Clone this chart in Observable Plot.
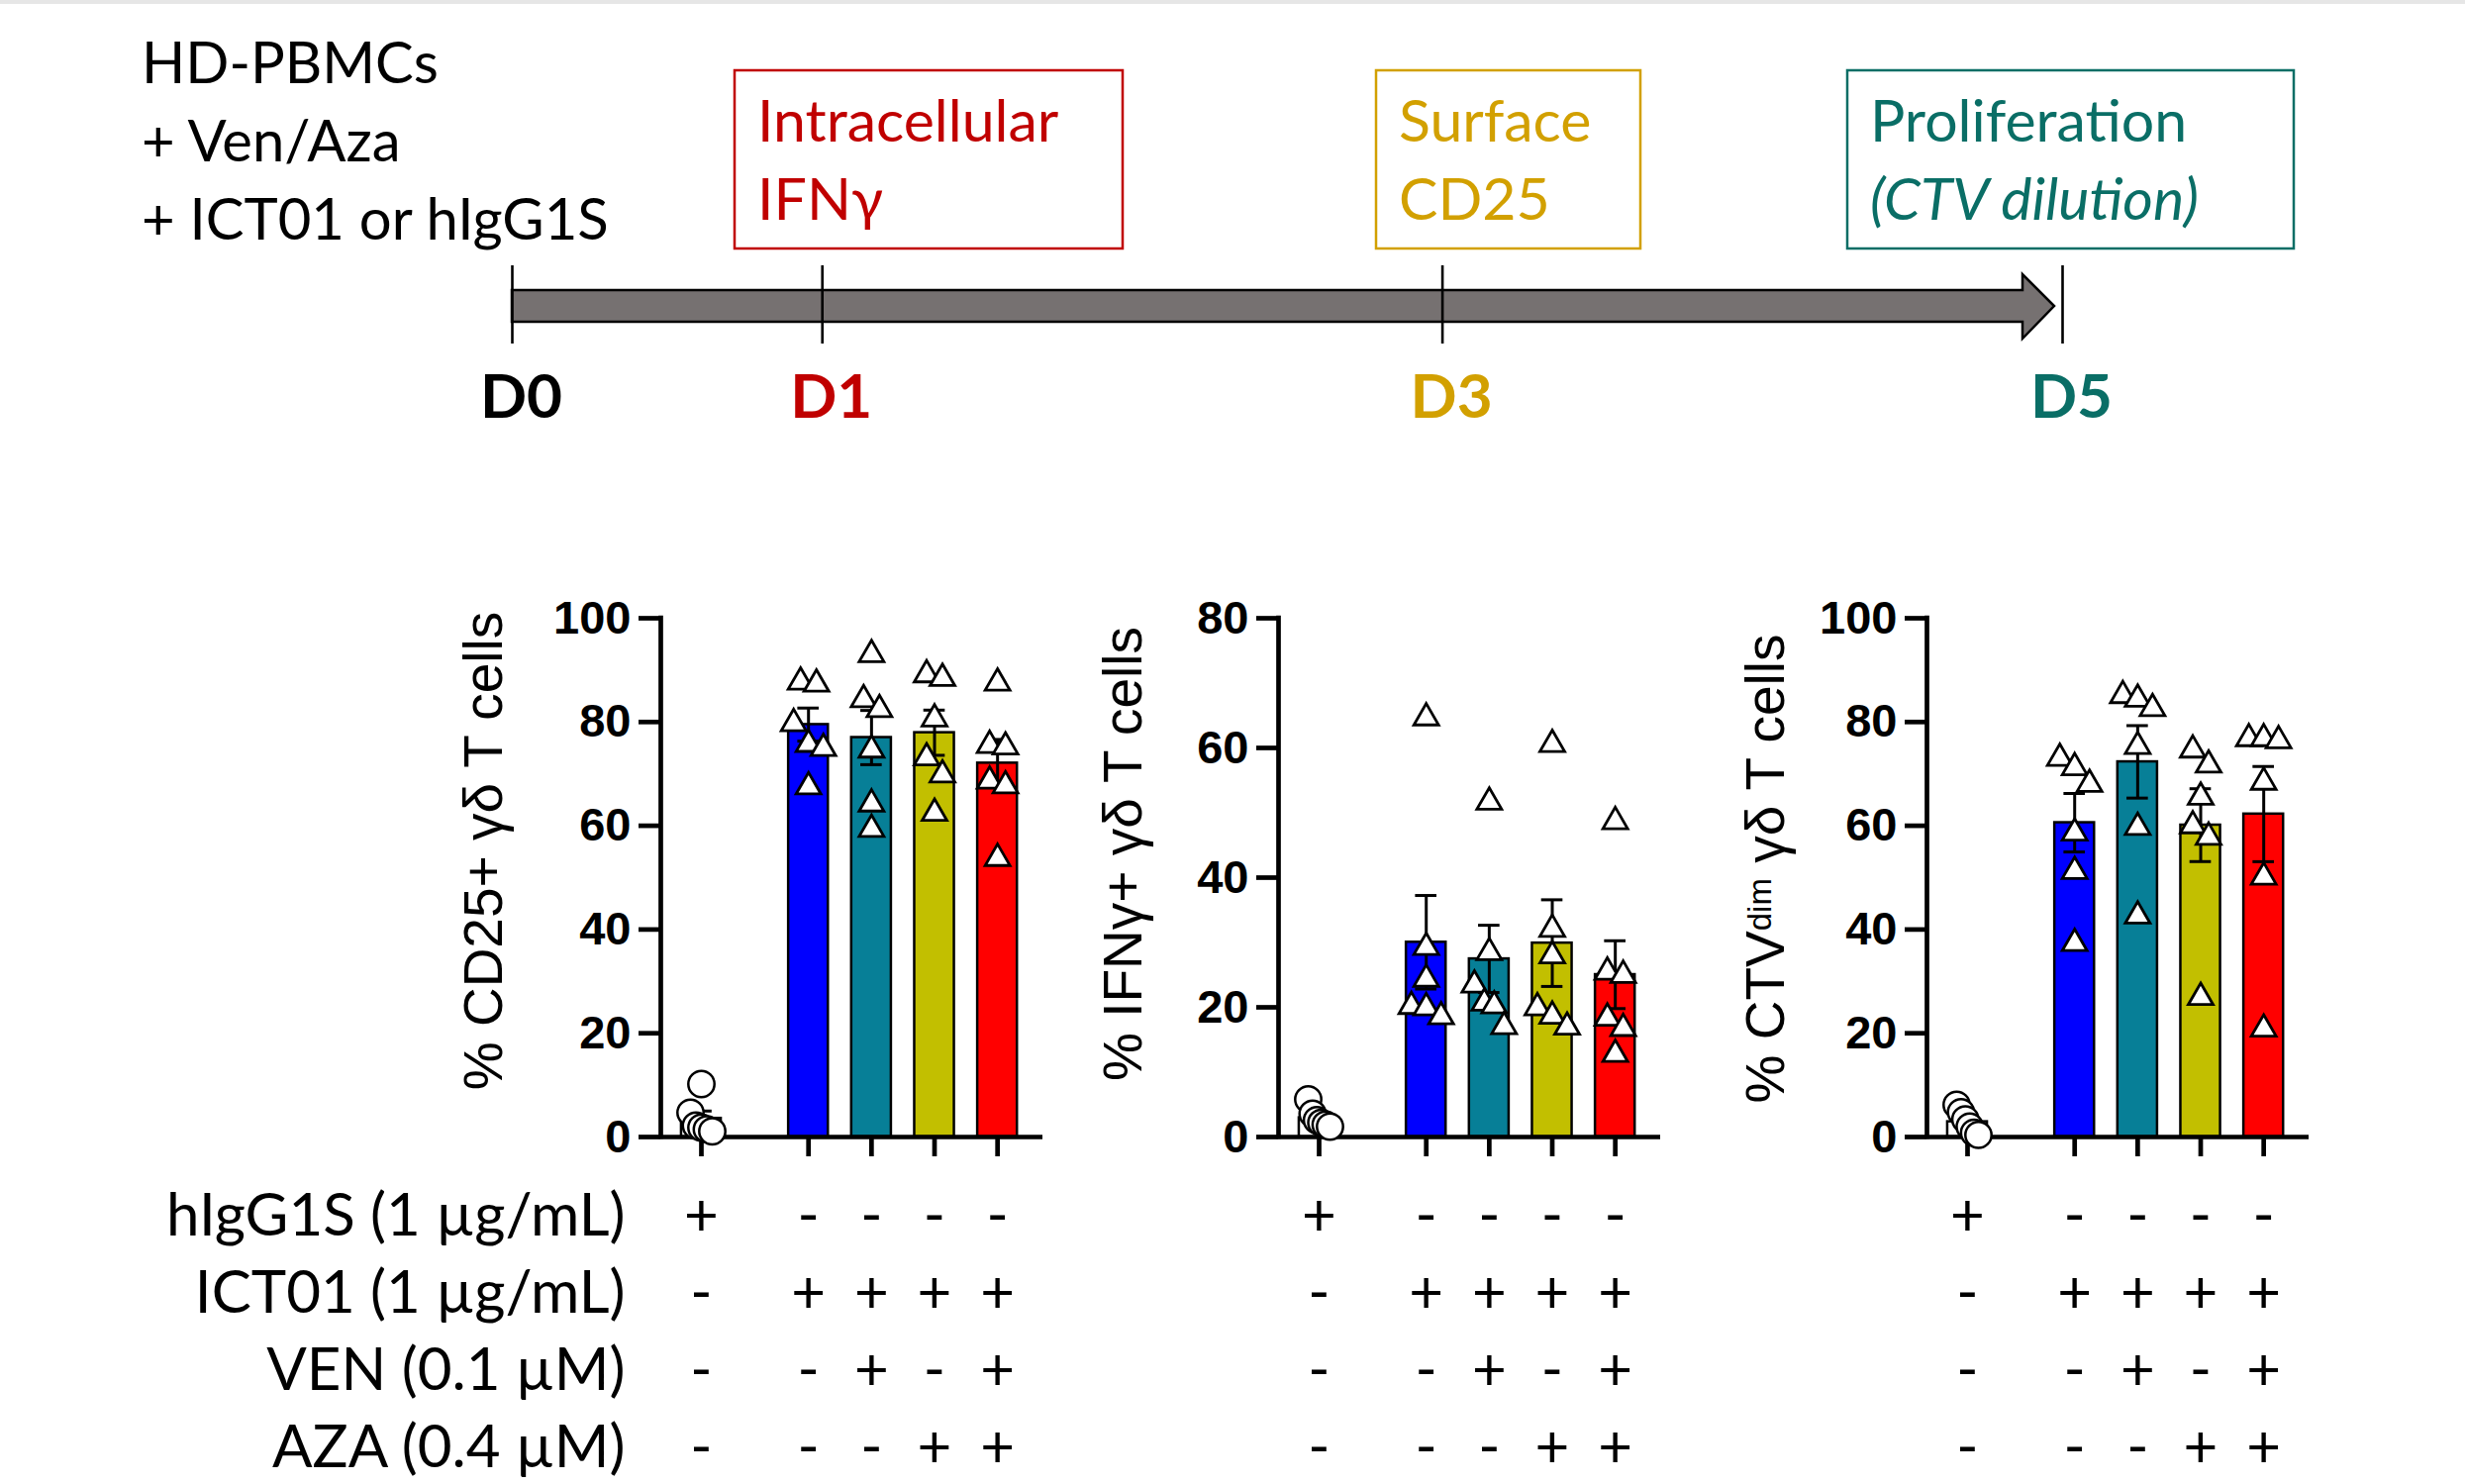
<!DOCTYPE html>
<html><head><meta charset="utf-8">
<script src="https://cdn.jsdelivr.net/npm/d3@7"></script>
<script src="https://cdn.jsdelivr.net/npm/@observablehq/plot@0.6"></script>
<style>
html,body{margin:0;padding:0;background:#fff;}
#page{position:relative;width:2490px;height:1499px;overflow:hidden;background:#fff;}
#page > svg, #page > div{position:absolute;}
</style></head><body><div id="page"></div>
<script>
// ---------------- DATA ----------------
const groupNames = ["hIgG1S", "ICT01", "ICT01 + VEN", "ICT01 + AZA", "ICT01 + VEN + AZA"];
const barColors = ["#FFFFFF", "#0000FF", "#077F97", "#C2BF00", "#FF0000"];
// % CD25+ gd T cells (D3)
const cd25Values = [
  [10.2, 4.7, 2.2, 1.8, 1.5, 1.1],
  [88.4, 88.0, 80.4, 76.4, 75.6, 68.2],
  [93.7, 85.0, 83.1, 75.3, 64.9, 60.0],
  [89.8, 89.1, 81.3, 73.8, 70.5, 63.1],
  [88.2, 76.2, 75.9, 69.3, 68.4, 54.4]
];
// % IFNg+ gd T cells (D1)
const ifngValues = [
  [5.8, 3.6, 2.6, 2.2, 1.9, 1.6],
  [65.2, 29.8, 24.9, 20.7, 20.5, 19.1],
  [52.2, 29.0, 24.0, 21.2, 20.8, 17.6],
  [61.1, 32.6, 28.5, 20.5, 19.2, 17.5],
  [49.2, 26.0, 25.5, 18.9, 17.3, 13.3]
];
// % CTVdim gd T cells (D5)
const ctvValues = [
  [6.2, 4.8, 3.4, 2.0, 0.8, 0.4],
  [73.7, 71.9, 68.7, 59.3, 51.9, 38.0],
  [85.8, 85.1, 83.3, 76.0, 60.4, 43.3],
  [75.3, 72.4, 66.2, 60.7, 58.5, 27.6],
  [77.5, 77.5, 77.1, 69.1, 50.8, 21.5]
];
const yTicks100 = [0, 20, 40, 60, 80, 100];
const yTicks80 = [0, 20, 40, 60, 80];
const rowLabels = ["hIgG1S (1 µg/mL)", "ICT01 (1 µg/mL)", "VEN (0.1 µM)", "AZA (0.4 µM)"];
const rowSigns = [
  ["+", "-", "-", "-", "-"],
  ["-", "+", "+", "+", "+"],
  ["-", "-", "+", "-", "+"],
  ["-", "-", "-", "+", "+"]
];
const days = [0, 1, 3, 5];
const dayLabels = ["D0", "D1", "D3", "D5"];
const dayColors = ["#000000", "#C00000", "#D2A000", "#0A6E66"];
const setupLines = ["HD-PBMCs", "+ Ven/Aza", "+ ICT01 or hIgG1S"];

// ---------------- LAYOUT ----------------
const page = document.getElementById("page");
const GAP = 1.70, XMIN = -0.644, XMAX = 5.42, HALFBAR = 0.315, CAPHALF = 0.17;
const posOf = i => i === 0 ? 0 : GAP + i - 1;
const ML = 230, MR = 30, PLOT_W = 386;
const CH_TOP = 560, CH_H = 628, CH_MT = 64, CH_MB = 40;
const TB_TOP = 1188, TB_H = 314;
const STEP_PX = PLOT_W / (XMAX - XMIN);
const innerH = CH_H - CH_MT - CH_MB;
const TRI_SIDE = 25;
const FONT_CHART = "'Liberation Sans', Arial, sans-serif";
const FONT_TEXT = "Lato, 'Open Sans', sans-serif";

function place(el, left, top) { el.style.left = left + "px"; el.style.top = top + "px"; page.appendChild(el); }

// equilateral triangle centred on its bounding box, fixed side length
const triSymbol = {
  draw(ctx) {
    const a = TRI_SIDE, h = a * Math.sqrt(3) / 2;
    ctx.moveTo(0, -h / 2); ctx.lineTo(a / 2, h / 2); ctx.lineTo(-a / 2, h / 2); ctx.closePath();
  }
};

// horizontal spread of overlapping points (computed, GraphPad-like scatter)
function dodge(vals, pxPerUnit, thr, spread, maxSpan) {
  const idx = vals.map((v, i) => i).sort((a, b) => vals[b] - vals[a]);
  const off = new Array(vals.length).fill(0);
  let cluster = [idx[0]];
  const flush = () => {
    const k = cluster.length;
    const s = k > 1 ? Math.min(spread, maxSpan / (k - 1)) : 0;
    cluster.forEach((id, j) => off[id] = (j - (k - 1) / 2) * s);
  };
  for (let t = 1; t < idx.length; t++) {
    if ((vals[idx[t - 1]] - vals[idx[t]]) * pxPerUnit < thr) cluster.push(idx[t]);
    else { flush(); cluster = [idx[t]]; }
  }
  flush();
  return off;
}

const panels = [
  {values: cd25Values, ymax: 100, ticks: yTicks100, label: "% CD25+ γδ T cells", axisX: 667, labelX: 489, labelY: 859, rowAxis: true},
  {values: ifngValues, ymax: 80, ticks: yTicks80, label: "% IFNγ+ γδ T cells", axisX: 1291, labelX: 1135, labelY: 862, rowAxis: false},
  {values: ctvValues, ymax: 100, ticks: yTicks100, label: "% CTVdim γδ T cells", axisX: 1946, labelX: 1784, labelY: 877, rowAxis: false, sup: true}
];

panels.forEach(p => {
  const pxPerUnit = innerH / p.ymax;
  const summary = p.values.map((vals, i) => {
    const m = d3.mean(vals);
    const sem = d3.deviation(vals) / Math.sqrt(vals.length);
    return {group: groupNames[i], pos: posOf(i), mean: m, sem, color: barColors[i]};
  });
  const circles = [], triangles = [];
  p.values.forEach((vals, i) => {
    const isCtrl = i === 0;
    const off = isCtrl ? dodge(vals, pxPerUnit, 26, 12, 22) : dodge(vals, pxPerUnit, 22, 16, 30);
    vals.forEach((v, j) => (isCtrl ? circles : triangles).push({x: posOf(i) + off[j] / STEP_PX, y: v}));
  });
  const frameMidY = CH_MT + innerH / 2;
  const chart = Plot.plot({
    width: ML + PLOT_W + MR, height: CH_H,
    marginLeft: ML, marginRight: MR, marginTop: CH_MT, marginBottom: CH_MB,
    x: {domain: [XMIN, XMAX], axis: null},
    y: {domain: [0, p.ymax], axis: null},
    color: {type: "identity"},
    style: {background: "transparent", color: "black", fontFamily: FONT_CHART, overflow: "visible"},
    marks: [
      Plot.rectY(summary, {x1: d => d.pos - HALFBAR, x2: d => d.pos + HALFBAR, y1: 0, y2: "mean", fill: "color", stroke: "black", strokeWidth: 2.5}),
      Plot.ruleX(summary, {x: "pos", y1: d => d.mean - d.sem, y2: d => d.mean + d.sem, stroke: "black", strokeWidth: 3}),
      Plot.ruleY(summary, {x1: d => d.pos - CAPHALF, x2: d => d.pos + CAPHALF, y: d => d.mean + d.sem, stroke: "black", strokeWidth: 3}),
      Plot.ruleY(summary, {x1: d => d.pos - CAPHALF, x2: d => d.pos + CAPHALF, y: d => d.mean - d.sem, stroke: "black", strokeWidth: 3}),
      Plot.ruleX([XMIN], {y1: 0, y2: p.ymax, stroke: "black", strokeWidth: 4.7, strokeLinecap: "square"}),
      Plot.ruleY([0], {x1: XMIN, x2: XMAX, stroke: "black", strokeWidth: 4.7}),
      Plot.axisY({ticks: p.ticks, tickSize: 22, tickPadding: 8, fontSize: 47, fontWeight: "bold", strokeWidth: 4.7, label: null, fontFamily: FONT_CHART}),
      Plot.axisX({ticks: summary.map(d => d.pos), tickSize: 20, tickFormat: () => "", strokeWidth: 4.7, label: null}),
      Plot.dot(circles, {x: "x", y: "y", r: 13.2, fill: "white", stroke: "black", strokeWidth: 2.5}),
      Plot.dot(triangles, {x: "x", y: "y", r: 13, symbol: triSymbol, fill: "white", stroke: "black", strokeWidth: 2.8}),
      Plot.text([p.label], {text: d => d, frameAnchor: "left", textAnchor: "middle", lineAnchor: "middle", rotate: -90, dx: p.labelX - p.axisX, dy: (p.labelY - CH_TOP) - frameMidY, fontSize: 55, fontFamily: FONT_CHART, fill: "black"})
    ]
  });
  if (p.sup) {
    d3.select(chart).selectAll("text").filter(function() { return this.textContent === p.label; }).each(function() {
      const t = d3.select(this);
      t.text("");
      t.append("tspan").text("% CTV");
      t.append("tspan").attr("dy", -13).attr("font-size", 33).text("dim");
      t.append("tspan").attr("dy", 13).text(" γδ T cells");
    });
  }
  place(chart, p.axisX - ML, CH_TOP);

  // condition table
  const cells = [];
  rowSigns.forEach((row, r) => row.forEach((s, g) => cells.push({x: posOf(g), row: rowLabels[r], s})));
  const table = Plot.plot({
    width: ML + PLOT_W + MR, height: TB_H,
    marginLeft: ML, marginRight: MR, marginTop: 0, marginBottom: 0,
    x: {domain: [XMIN, XMAX], axis: null},
    y: {type: "point", domain: rowLabels, padding: 0.5, axis: null},
    style: {background: "transparent", color: "black", fontFamily: FONT_TEXT, overflow: "visible"},
    marks: [
      Plot.text(cells, {x: "x", y: "row", text: "s", fontSize: 60, fontFamily: FONT_TEXT, fill: "black"}),
      p.rowAxis ? Plot.axisY({tickSize: 0, tickPadding: 36, fontSize: 60, fontFamily: FONT_TEXT, label: null}) : null
    ]
  });
  place(table, p.axisX - ML, TB_TOP);
});

// ---------------- TIMELINE ----------------
const TL_H = 440;
const timeline = Plot.plot({
  width: 2490, height: TL_H,
  marginLeft: 517, marginRight: 407, marginTop: 268, marginBottom: TL_H - 347,
  x: {domain: [0, 5], axis: null},
  color: {type: "identity"},
  style: {background: "transparent", color: "black", overflow: "visible"},
  marks: [
    Plot.ruleX(days, {x: d => d, stroke: "black", strokeWidth: 2.6}),
    Plot.text(days, {x: d => d, text: (d, i) => dayLabels[i], fill: (d, i) => dayColors[i], frameAnchor: "bottom", lineAnchor: "middle", textAnchor: "middle", dy: 55, dx: 9, fontSize: 62, fontWeight: "bold", fontFamily: FONT_TEXT})
  ]
});
{
  const xs = timeline.scale("x");
  const x0 = xs.apply(0), tip = xs.apply(5) - 8, headBase = tip - 32;
  const sT = 293, sB = 325, hT = 277, hB = 342, mid = (sT + sB) / 2;
  const path = `M${x0},${sT}H${headBase}V${hT}L${tip},${mid}L${headBase},${hB}V${sB}H${x0}Z`;
  d3.select(timeline).insert("path", ":first-child")
    .attr("d", path).attr("fill", "#767171").attr("stroke", "black").attr("stroke-width", 2.5).attr("stroke-linejoin", "miter");
}
place(timeline, 0, 0);

// top annotations (setup text + readout boxes)
const ann = d3.create("svg").attr("width", 2490).attr("height", TL_H)
  .style("font-family", FONT_TEXT).style("overflow", "visible");
ann.append("rect").attr("x", 0).attr("y", 0).attr("width", 2490).attr("height", 4).attr("fill", "#e6e6e6");
setupLines.forEach((t, i) => ann.append("text").attr("x", 143).attr("y", 84 + i * 79).attr("font-size", 58).attr("fill", "black").text(t));
const boxes = [
  {x: 742, w: 392, color: "#C00000", lines: ["Intracellular", "IFNγ"], italic: [false, false]},
  {x: 1390, w: 267, color: "#D2A000", lines: ["Surface", "CD25"], italic: [false, false]},
  {x: 1866, w: 451, color: "#0A6E66", lines: ["Proliferation", "(CTV dilution)"], italic: [false, true]}
];
boxes.forEach(b => {
  ann.append("rect").attr("x", b.x).attr("y", 71).attr("width", b.w).attr("height", 180)
    .attr("fill", "none").attr("stroke", b.color).attr("stroke-width", 2.5);
  b.lines.forEach((t, i) => ann.append("text").attr("x", b.x + 23).attr("y", 143 + i * 79)
    .attr("font-size", 59).attr("fill", b.color).attr("font-style", b.italic[i] ? "italic" : "normal").text(t));
});
place(ann.node(), 0, 0);
</script></body></html>
